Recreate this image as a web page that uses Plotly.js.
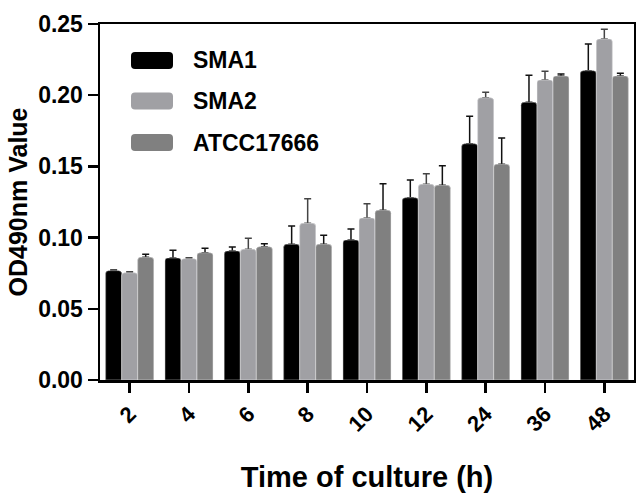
<!DOCTYPE html>
<html>
<head>
<meta charset="utf-8">
<script src="https://cdn.plot.ly/plotly-3.0.1.min.js"></script>
<style>
html,body{margin:0;padding:0;background:#fff;}
#chart{width:636px;height:493px;}
</style>
</head>
<body>
<div id="chart"></div>
<script>
// ---- data ----
const categories = ['2', '4', '6', '8', '10', '12', '24', '36', '48'];
const seriesNames = ['SMA1', 'SMA2', 'ATCC17666'];
const sma1    = [0.0768, 0.0857, 0.0906, 0.0953, 0.0983, 0.1280, 0.1659, 0.1950, 0.2172];
const sma1Err = [0.0005, 0.0054, 0.0028, 0.0128, 0.0077, 0.0124, 0.0193, 0.0190, 0.0188];
const sma2    = [0.0753, 0.0852, 0.0918, 0.1100, 0.1138, 0.1374, 0.1982, 0.2107, 0.2395];
const sma2Err = [0.0007, 0.0007, 0.0077, 0.0173, 0.0100, 0.0075, 0.0038, 0.0061, 0.0068];
const atcc    = [0.0862, 0.0894, 0.0936, 0.0953, 0.1192, 0.1367, 0.1515, 0.2135, 0.2135];
const atccErr = [0.0021, 0.0031, 0.0021, 0.0063, 0.0187, 0.0138, 0.0184, 0.0014, 0.0019];
const yTickVals = [0, 0.05, 0.10, 0.15, 0.20, 0.25];
const yTickText = ['0.00', '0.05', '0.10', '0.15', '0.20', '0.25'];

// ---- styling ----
const colors = ['#000000', '#a0a0a4', '#808080'];
const errColors = ['#111111', '#444444', '#111111'];
const FONT = 'Liberation Sans, Arial, sans-serif';
const values = [sma1, sma2, atcc];
const errs = [sma1Err, sma2Err, atccErr];

const traces = [];
// under-layer: bars with upward error bars (the error stems are then hidden by the top layer)
for (let i = 0; i < 3; i++) {
  traces.push({
    type: 'bar', x: categories, y: values[i], name: seriesNames[i],
    offsetgroup: 'g' + i, showlegend: false, hoverinfo: 'skip',
    marker: {color: colors[i], cornerradius: 3, line: {width: 0}},
    error_y: {type: 'data', array: errs[i], symmetric: false,
              arrayminus: errs[i].map(() => 0), color: errColors[i], thickness: 1.5, width: 3.5}
  });
}
// top layer: the visible bars
for (let i = 0; i < 3; i++) {
  traces.push({
    type: 'bar', x: categories, y: values[i], name: seriesNames[i],
    offsetgroup: 'g' + i, showlegend: false,
    marker: {color: colors[i], cornerradius: 3, line: {width: 0.6, color: 'rgba(255,255,255,0.7)'}}
  });
}

// plot-area geometry (pixels) for a hand-built legend
const M = {l: 100, r: 2, t: 24, b: 113};
const W = 636, H = 493;
const pw = W - M.l - M.r, ph = H - M.t - M.b;
const px2x = p => (p - M.l) / pw;
const py2y = p => (H - M.b - p) / ph;
function roundRect(x0, y0, x1, y1, r) {
  const X = px2x, Y = py2y;
  return 'M' + X(x0 + r) + ',' + Y(y0) +
    ' L' + X(x1 - r) + ',' + Y(y0) + ' Q' + X(x1) + ',' + Y(y0) + ' ' + X(x1) + ',' + Y(y0 + r) +
    ' L' + X(x1) + ',' + Y(y1 - r) + ' Q' + X(x1) + ',' + Y(y1) + ' ' + X(x1 - r) + ',' + Y(y1) +
    ' L' + X(x0 + r) + ',' + Y(y1) + ' Q' + X(x0) + ',' + Y(y1) + ' ' + X(x0) + ',' + Y(y1 - r) +
    ' L' + X(x0) + ',' + Y(y0 + r) + ' Q' + X(x0) + ',' + Y(y0) + ' ' + X(x0 + r) + ',' + Y(y0) + ' Z';
}
const legendRowsY = [60.5, 101, 142.5];
const shapes = [], annotations = [];
for (let i = 0; i < 3; i++) {
  const cy = legendRowsY[i];
  shapes.push({type: 'path', xref: 'paper', yref: 'paper',
    path: roundRect(131, cy - 8.5, 173, cy + 8.5, 4),
    fillcolor: colors[i], line: {width: 0}});
  annotations.push({xref: 'paper', yref: 'paper', x: px2x(191), y: py2y(cy),
    xanchor: 'left', yanchor: 'middle', showarrow: false, text: seriesNames[i],
    font: {family: FONT, size: 23, color: '#000', weight: 'bold'}});
}

const layout = {
  width: W, height: H,
  margin: M,
  paper_bgcolor: '#fff', plot_bgcolor: '#fff',
  barmode: 'group', bargap: 0.19, bargroupgap: 0,
  showlegend: false,
  font: {family: FONT, color: '#000'},
  xaxis: {
    type: 'category', range: [-0.5, 8.5], automargin: false,
    showline: true, linecolor: '#000', linewidth: 2.5, mirror: true,
    ticks: 'outside', ticklen: 10, tickwidth: 2.5, tickcolor: '#000',
    tickangle: -45, showgrid: false, zeroline: false,
    tickfont: {family: FONT, size: 22, weight: 'bold'},
    title: {text: 'Time of culture (h)', standoff: 43,
            font: {family: FONT, size: 29, weight: 'bold'}}
  },
  yaxis: {
    range: [0, 0.25], tickvals: yTickVals, ticktext: yTickText, automargin: false,
    showline: true, linecolor: '#000', linewidth: 2.5, mirror: true,
    ticks: 'outside', ticklen: 10, tickwidth: 2.5, tickcolor: '#000',
    showgrid: false, zeroline: false,
    tickfont: {family: FONT, size: 23, weight: 'bold'},
    title: {text: 'OD490nm Value', standoff: 4,
            font: {family: FONT, size: 25, weight: 'bold'}}
  },
  shapes: shapes,
  annotations: annotations
};

Plotly.newPlot('chart', traces, layout, {displayModeBar: false, staticPlot: true});
</script>
</body>
</html>
